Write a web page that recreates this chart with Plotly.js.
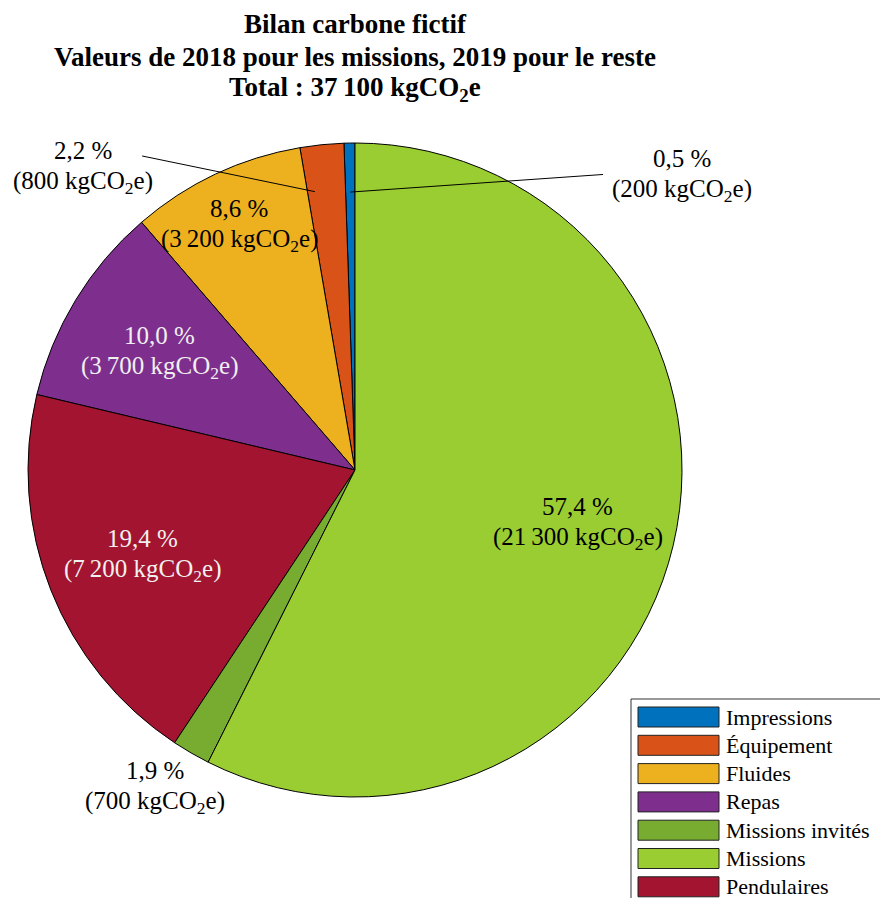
<!DOCTYPE html>
<html>
<head>
<meta charset="utf-8">
<script src="https://cdn.plot.ly/plotly-3.0.1.min.js"></script>
<style>html,body{margin:0;padding:0;background:#fff;}#chart{width:880px;height:898px;}</style>
</head>
<body>
<div id="chart"></div>
<script>
// ---- data ----
const categories = ['Impressions', 'Équipement', 'Fluides', 'Repas', 'Pendulaires', 'Missions invités', 'Missions'];
const values = [200, 800, 3200, 3700, 7200, 700, 21300];
const legendOrder = ['Impressions', 'Équipement', 'Fluides', 'Repas', 'Missions invités', 'Missions', 'Pendulaires'];
const titleLines = ['Bilan carbone fictif', 'Valeurs de 2018 pour les missions, 2019 pour le reste'];
const unitLabel = 'kgCO<sub>2</sub>e';

// ---- styles ----
const colorMap = {
  'Impressions': '#0072BD', 'Équipement': '#D95319', 'Fluides': '#EDB120', 'Repas': '#7E2F8E',
  'Pendulaires': '#A2142F', 'Missions invités': '#77AC30', 'Missions': '#9ACD32'
};
const labelPlace = {
  'Impressions': {out: true, ang: -47.9, rf: 1.348, lead: {dx: -79, dy: 0, inRf: 0.85}, color: '#000'},
  'Équipement': {out: true, ang: 41.9, rf: 1.245, lead: {dx: 59, dy: -11, inRf: 0.86, inAng: 8.2}, color: '#000'},
  'Fluides': {rf: 0.83, color: '#000'},
  'Repas': {rf: 0.70, color: '#f0f0f0'},
  'Pendulaires': {rf: 0.70, color: '#f0f0f0'},
  'Missions invités': {out: true, ang: 147.7, rf: 1.145, color: '#000'},
  'Missions': {rf: 0.70, color: '#000'}
};
const W = 880, H = 898;
const cx = 355, cy = 470, R = 327;
const FONT = 'Liberation Serif';

const total = values.reduce((a, b) => a + b, 0);
function groupNum(v) {
  const s = String(Math.round(v));
  return s.replace(/\B(?=(\d{3})+(?!\d))/g, '\u2009');
}
function pctText(v) { return (v / total * 100).toFixed(1).replace('.', ',') + '\u00A0%'; }
function valText(v) { return '(' + groupNum(v) + '\u00A0' + unitLabel + ')'; }
const px2x = p => p / W;
const py2y = p => 1 - p / H;
function polar(angDeg, rf) {
  const a = angDeg * Math.PI / 180;
  return [cx - rf * R * Math.sin(a), cy - rf * R * Math.cos(a)];
}

const annotations = [];
const shapes = [];
annotations.push({xref: 'paper', yref: 'paper', x: px2x(cx), y: py2y(57), xanchor: 'center', yanchor: 'middle',
  showarrow: false, text: '<b>' + titleLines[1] + '</b>', font: {family: FONT, size: 27, color: '#000'}});
annotations.push({xref: 'paper', yref: 'paper', x: px2x(cx), y: py2y(89), xanchor: 'center', yanchor: 'middle',
  showarrow: false, text: '<b>Total\u00A0: ' + groupNum(total) + '\u00A0kgCO<sub>2</sub>e</b>', font: {family: FONT, size: 27, color: '#000'}});

let cum = 0;
categories.forEach((c, i) => {
  const v = values[i];
  const startA = cum / total * 360;
  cum += v;
  const endA = cum / total * 360;
  const mid = (startA + endA) / 2;
  const p = labelPlace[c];
  const [lx, ly] = p.out ? polar(p.ang, p.rf) : polar(mid, p.rf);
  const f = {family: FONT, size: 25, color: p.color};
  annotations.push({xref: 'paper', yref: 'paper', x: px2x(lx), y: py2y(ly - 16), xanchor: 'center', yanchor: 'middle',
    showarrow: false, text: pctText(v), font: f});
  annotations.push({xref: 'paper', yref: 'paper', x: px2x(lx), y: py2y(ly + 16), xanchor: 'center', yanchor: 'middle',
    showarrow: false, text: valText(v), font: f});
  if (p.lead) {
    const [ix, iy] = polar(p.lead.inAng !== undefined ? p.lead.inAng : mid, p.lead.inRf);
    shapes.push({type: 'line', xref: 'paper', yref: 'paper', x0: px2x(lx + p.lead.dx), y0: py2y(ly + p.lead.dy),
      x1: px2x(ix), y1: py2y(iy), line: {color: '#000', width: 1}});
  }
});

const lgX = 631, lgY = 699, pitch = 28.3;
shapes.push({type: 'rect', xref: 'paper', yref: 'paper', x0: px2x(lgX), x1: px2x(W + 10), y0: py2y(lgY), y1: py2y(H + 10),
  line: {color: '#333', width: 1}, fillcolor: 'rgba(255,255,255,0)'});
legendOrder.forEach((c, k) => {
  const top = 707 + k * pitch;
  shapes.push({type: 'rect', xref: 'paper', yref: 'paper', x0: px2x(638), x1: px2x(719), y0: py2y(top), y1: py2y(top + 20),
    line: {color: '#222', width: 1}, fillcolor: colorMap[c]});
  annotations.push({xref: 'paper', yref: 'paper', x: px2x(724), y: py2y(top + 10), xanchor: 'left', yanchor: 'middle',
    showarrow: false, text: c, font: {family: FONT, size: 22, color: '#000'}});
});

const trace = {
  type: 'pie',
  labels: categories,
  values: values,
  sort: false,
  direction: 'counterclockwise',
  rotation: -values[0] / total * 360,
  textinfo: 'none',
  hoverinfo: 'label+value+percent',
  showlegend: false,
  automargin: false,
  marker: {colors: categories.map(c => colorMap[c]), line: {color: '#000', width: 1}},
  domain: {x: [px2x(cx - R), px2x(cx + R)], y: [py2y(cy + R), py2y(cy - R)]}
};

const layout = {
  width: W, height: H,
  margin: {l: 0, r: 0, t: 0, b: 0},
  paper_bgcolor: '#fff',
  showlegend: false,
  title: {text: '<b>' + titleLines[0] + '</b>', font: {family: FONT, size: 27, color: '#000'},
    x: px2x(cx), xanchor: 'center', xref: 'paper', y: py2y(24), yref: 'paper', yanchor: 'middle'},
  annotations: annotations,
  shapes: shapes
};

Plotly.newPlot('chart', [trace], layout, {displayModeBar: false, staticPlot: true});
</script>
</body>
</html>
